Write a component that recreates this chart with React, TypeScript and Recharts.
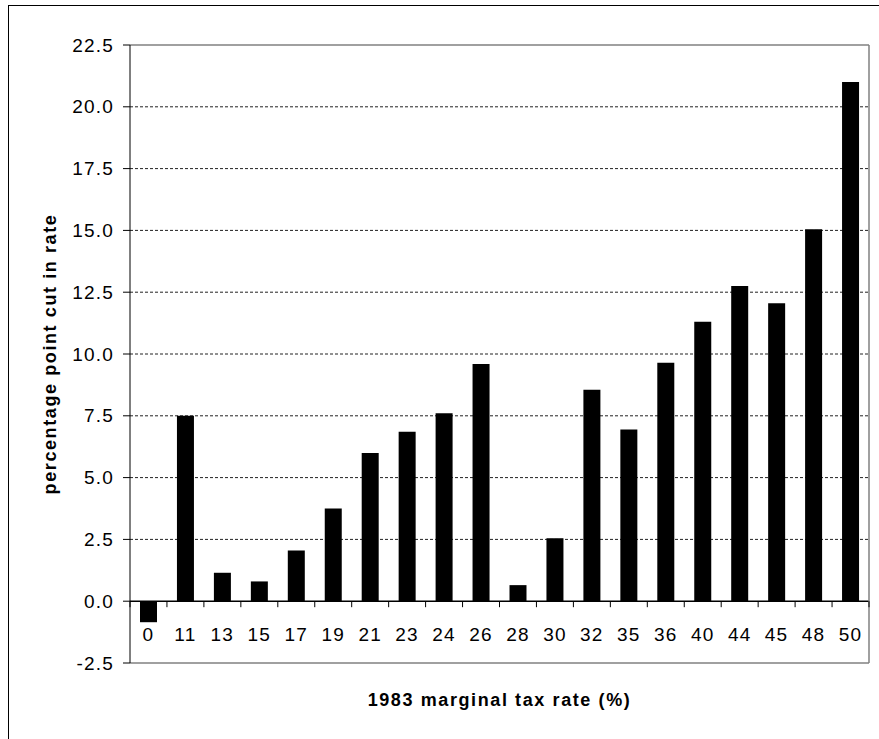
import { Bar, BarChart, CartesianGrid, ReferenceLine, XAxis, YAxis } from 'recharts';

const rates = ['0', '11', '13', '15', '17', '19', '21', '23', '24', '26', '28', '30', '32', '35', '36', '40', '44', '45', '48', '50'];
const cuts = [-0.85, 7.5, 1.15, 0.8, 2.05, 3.75, 6.0, 6.85, 7.6, 9.6, 0.65, 2.55, 8.55, 6.95, 9.65, 11.3, 12.75, 12.05, 15.05, 21.0];
const yTicks = [-2.5, 0, 2.5, 5, 7.5, 10, 12.5, 15, 17.5, 20, 22.5];

const data = rates.map((rate, i) => ({ rate, cut: cuts[i] }));

const W = 879;
const H = 739;
const M = { top: 45, right: 9, bottom: 75, left: 60 };
const Y_AXIS_W = 70;
const PLOT_X = M.left + Y_AXIS_W;
const PLOT_W = W - PLOT_X - M.right - 1;
const PLOT_H = H - M.top - M.bottom - 1;
const Y_MIN = yTicks[0];
const Y_MAX = yTicks[yTicks.length - 1];
const ZERO_Y = M.top + (PLOT_H * Y_MAX) / (Y_MAX - Y_MIN);
const BAND = PLOT_W / rates.length;
const gridValues = yTicks.filter((v) => v > Y_MIN && v < Y_MAX && v !== 0);

const FONT = '"Liberation Sans", Arial, sans-serif';

function XTick(props: any) {
  const { x, payload, index } = props;
  const left = x - BAND / 2;
  const right = x + BAND / 2;
  return (
    <g>
      <line x1={left} x2={left} y1={ZERO_Y} y2={ZERO_Y + 6} stroke="#000" />
      {index === rates.length - 1 && <line x1={right} x2={right} y1={ZERO_Y} y2={ZERO_Y + 6} stroke="#000" />}
      <text
        x={x}
        y={ZERO_Y + 33}
        textAnchor="middle"
        dominantBaseline="central"
        fill="#000"
        style={{ fontSize: 19, letterSpacing: 1.2, fontFamily: FONT }}
      >
        {payload.value}
      </text>
    </g>
  );
}

function YTick(props: any) {
  const { x, y, payload } = props;
  return (
    <text
      x={x}
      y={y}
      textAnchor="end"
      dominantBaseline="central"
      fill="#000"
      style={{ fontSize: 19, letterSpacing: 1.2, fontFamily: FONT }}
    >
      {Number(payload.value).toFixed(1)}
    </text>
  );
}

function YTitle(props: any) {
  const { viewBox } = props;
  const cx = 50;
  const cy = viewBox.y + viewBox.height / 2;
  return (
    <text
      x={cx}
      y={cy}
      transform={`rotate(-90, ${cx}, ${cy})`}
      textAnchor="middle"
      dominantBaseline="central"
      fill="#000"
      style={{ fontSize: 18, fontWeight: 'bold', letterSpacing: 1.6, fontFamily: FONT }}
    >
      percentage point cut in rate
    </text>
  );
}

function XTitle(props: any) {
  const { viewBox } = props;
  const cx = viewBox.x + viewBox.width / 2;
  return (
    <text
      x={cx}
      y={700}
      textAnchor="middle"
      dominantBaseline="central"
      fill="#000"
      style={{ fontSize: 18, fontWeight: 'bold', letterSpacing: 1.6, fontFamily: FONT }}
    >
      1983 marginal tax rate (%)
    </text>
  );
}

export default function App() {
  return (
    <div style={{ position: 'absolute', left: 0, top: 0, width: W, height: H, overflow: 'hidden', background: '#fff' }}>
      <div
        style={{
          position: 'absolute',
          left: 8,
          top: 5,
          width: 1000,
          height: 1000,
          border: '1px solid #000',
        }}
      />
      <div style={{ position: 'absolute', left: 0, top: 0 }}>
        <BarChart width={W} height={H} data={data} margin={M} style={{ fontFamily: FONT }}>
          <CartesianGrid vertical={false} stroke="#222" strokeDasharray="3 2" horizontalValues={gridValues} />
          <XAxis
            dataKey="rate"
            interval={0}
            height={1}
            tickLine={false}
            axisLine={{ stroke: '#808080', strokeWidth: 1.5 }}
            tick={<XTick />}
            label={<XTitle />}
          />
          <YAxis
            type="number"
            domain={[Y_MIN, Y_MAX]}
            ticks={yTicks}
            interval={0}
            width={Y_AXIS_W}
            tickSize={7}
            tickMargin={9}
            axisLine={{ stroke: '#000' }}
            tickLine={{ stroke: '#000' }}
            tick={<YTick />}
            label={<YTitle />}
          />
          <YAxis
            yAxisId="right"
            orientation="right"
            type="number"
            domain={[Y_MIN, Y_MAX]}
            width={1}
            tick={false}
            tickLine={false}
            axisLine={{ stroke: '#808080', strokeWidth: 1.5 }}
          />
          <ReferenceLine y={Y_MAX} stroke="#808080" strokeWidth={1.5} />
          <Bar dataKey="cut" fill="#000" barSize={17} isAnimationActive={false} />
          <ReferenceLine y={0} stroke="#000" strokeWidth={1.5} />
        </BarChart>
      </div>
    </div>
  );
}
